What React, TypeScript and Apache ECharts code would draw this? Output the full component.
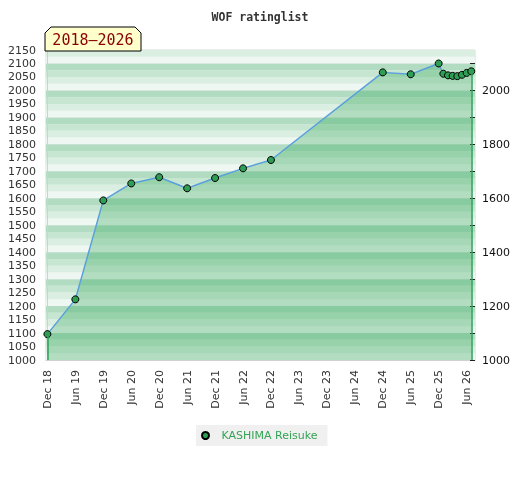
import React, { useEffect, useRef } from "react";
import * as echarts from "echarts";

// ---- data ----
const ratingDates: string[] = [
  "2018-12", "2019-06", "2019-12", "2020-06", "2020-12", "2021-06", "2021-12",
  "2022-06", "2022-12", "2024-12", "2025-06", "2025-12", "2026-01", "2026-02",
  "2026-03", "2026-04", "2026-05", "2026-06", "2026-07",
];
const ratingValues: number[] = [
  1096, 1225, 1592, 1655, 1678, 1637, 1675,
  1711, 1742, 2067, 2060, 2100, 2062, 2056,
  2054, 2053, 2058, 2065, 2071,
];
const xTickLabels: string[] = [
  "Dec 18", "Jun 19", "Dec 19", "Jun 20", "Dec 20", "Jun 21", "Dec 21", "Jun 22",
  "Dec 22", "Jun 23", "Dec 23", "Jun 24", "Dec 24", "Jun 25", "Dec 25", "Jun 26",
];
const playerName = "KASHIMA Reisuke";
const titleText = "WOF ratinglist";
const periodText = "2018–2026";

// month index counted from Dec 2018
const monthIndex = (d: string) => {
  const [y, m] = d.split("-").map(Number);
  return (y - 2018) * 12 + (m - 12);
};

const stripeColors = ["#eef7f1", "#dbeee2", "#c7e6d2", "#b1dcc2"];

export default function App() {
  const ref = useRef<HTMLDivElement>(null);
  useEffect(() => {
    if (!ref.current) return;
    const chart = echarts.init(ref.current, null, { renderer: "svg" });
    const points = ratingDates.map((d, i) => [monthIndex(d), ratingValues[i]]);
    const first = points[0];
    const last = points[points.length - 1];
    const tickVals = xTickLabels.map((_, i) => i * 6);
    const rightTicks: number[] = [];
    for (let v = 1000; v <= 2100; v += 100) rightTicks.push(v);

    chart.setOption({
      animation: false,
      title: {
        text: titleText,
        left: "center",
        top: 6,
        textStyle: {
          fontFamily: "DejaVu Sans Mono",
          fontSize: 11.5,
          fontWeight: "bold",
          color: "#333",
        },
      },
      legend: {
        data: [playerName],
        left: 196,
        top: 425,
        icon: "circle",
        itemWidth: 22,
        itemHeight: 7,
        padding: [5, 10, 5, 5],
        backgroundColor: "#f0f0f0",
        textStyle: { fontFamily: "DejaVu Sans", fontSize: 11, color: "#35a355" },
      },
      grid: {
        left: 46,
        right: 45,
        top: 50,
        bottom: 120,
        containLabel: false,
        outerBoundsMode: "none",
        show: true,
        borderColor: "#d8d8d8",
        borderWidth: 1,
      },
      xAxis: {
        type: "value",
        min: -0.3,
        max: 91.8,
        axisLine: { show: true, lineStyle: { color: "#d0d0d0" } },
        axisTick: { show: false },
        splitLine: { show: false },
        axisLabel: {
          rotate: 90,
          margin: 10,
          customValues: tickVals,
          fontFamily: "DejaVu Sans",
          fontSize: 11,
          color: "#333",
          formatter: (v: number) => xTickLabels[Math.round(v / 6)] ?? "",
        },
      },
      yAxis: [
        {
          type: "value",
          min: 1000,
          max: 2150,
          interval: 50,
          position: "left",
          axisLine: { show: true, lineStyle: { color: "#d0d0d0" } },
          axisTick: { show: false },
          splitLine: { show: false },
          axisLabel: {
            margin: 10,
            fontFamily: "DejaVu Sans",
            fontSize: 11,
            color: "#333",
            formatter: (v: number) => String(v),
          },
        },
        {
          type: "value",
          min: 1000,
          max: 2150,
          interval: 100,
          position: "right",
          axisLine: { show: false },
          axisTick: {
            show: true,
            inside: true,
            length: 5,
            customValues: rightTicks,
            lineStyle: { color: "#222" },
          },
          splitLine: { show: true, lineStyle: { color: "#d6d6d6", width: 1 } },
          axisLabel: {
            margin: 7,
            fontFamily: "DejaVu Sans",
            fontSize: 11,
            color: "#111",
            formatter: (v: number) => (v % 200 === 0 && v <= 2000 ? String(v) : ""),
          },
        },
        {
          type: "value",
          min: 1000,
          max: 2150,
          interval: 25,
          position: "left",
          show: true,
          axisLine: { show: false },
          axisTick: { show: false },
          axisLabel: { show: false },
          splitLine: { show: false },
          splitArea: { show: true, areaStyle: { color: stripeColors } },
        },
      ],
      series: [
        {
          name: playerName,
          type: "line",
          yAxisIndex: 0,
          data: points,
          symbol: "circle",
          symbolSize: 7,
          itemStyle: { color: "#2f9e55", borderColor: "#000", borderWidth: 1 },
          lineStyle: { color: "#5aa0dc", width: 1.5 },
          areaStyle: { color: "rgba(47,164,85,0.44)", origin: "start" },
          markLine: {
            silent: true,
            symbol: "none",
            label: { show: false },
            lineStyle: { color: "#2ca05a", width: 1.5, type: "solid" },
            data: [
              [{ coord: [first[0], 1000] }, { coord: [first[0], first[1]] }],
              [{ coord: [last[0], 1000] }, { coord: [last[0], last[1]] }],
            ],
          },
        },
      ],
      graphic: [
        {
          type: "polygon",
          z: 100,
          shape: {
            points: [
              [45, 51], [45, 33], [51, 27], [135, 27], [141, 33], [141, 51],
            ],
          },
          style: { fill: "#ffffcc", stroke: "#000", lineWidth: 1 },
        },
        {
          type: "text",
          z: 101,
          x: 93,
          y: 40,
          style: {
            text: periodText,
            fontFamily: "DejaVu Sans Mono",
            fontSize: 15,
            fill: "#8b0000",
            align: "center",
            verticalAlign: "middle",
          },
        },
      ],
    });
    return () => chart.dispose();
  }, []);
  return (
    <div
      ref={ref}
      style={{ position: "fixed", left: 0, top: 0, width: 520, height: 480 }}
    />
  );
}
